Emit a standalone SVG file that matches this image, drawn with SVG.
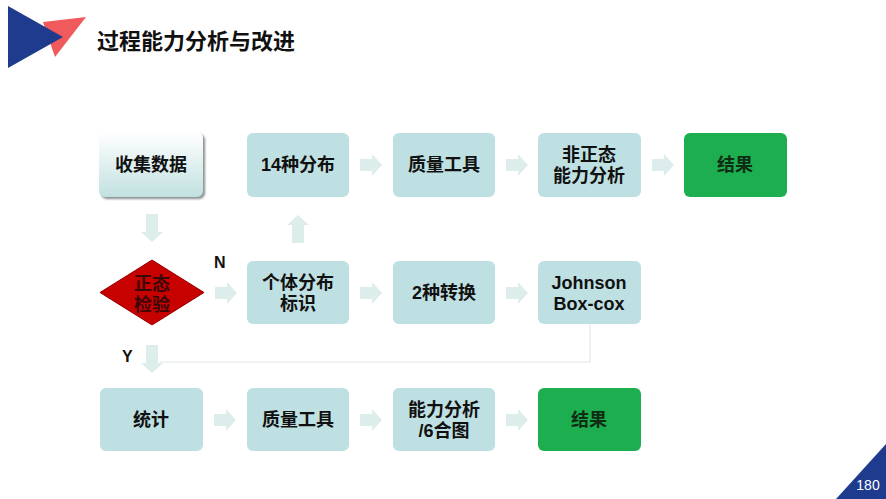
<svg xmlns="http://www.w3.org/2000/svg" width="886" height="499" viewBox="0 0 886 499">
<defs>
<linearGradient id="gCollect" x1="0" y1="0" x2="0" y2="1">
<stop offset="0" stop-color="#ffffff"/>
<stop offset="1" stop-color="#c2e0e0"/>
</linearGradient>
<filter id="shadow" x="-10%" y="-10%" width="130%" height="130%">
<feDropShadow dx="2" dy="2" stdDeviation="1.2" flood-color="#6b7373" flood-opacity="0.8"/>
</filter>
<path id="arrH" d="M0,-6 H12 V-11 L22,0 L12,11 V6 H0 Z"/>
<path id="arrD" d="M-6,0 V18 H-11 L0,28 L11,18 H6 V0 Z"/>
<path id="arrU" d="M-6,28 V10 H-11 L0,0 L11,10 H6 V28 Z"/>
</defs>
<style>
.box{fill:#bfe0e2;}
.green{fill:#1daf4f;}
.t{font-family:"Liberation Sans","Noto Sans CJK SC",sans-serif;font-weight:bold;font-size:18px;fill:#111;text-anchor:middle;}
.tg{fill:#0f2d14;}
.tr{fill:#3a0707;}
.arr{fill:#dcedeb;}
.lbl{font-family:"Liberation Sans","Noto Sans CJK SC",sans-serif;font-weight:bold;font-size:16px;fill:#111;}
</style>
<rect width="886" height="499" fill="#ffffff"/>

<g id="header">
<polygon points="43,22 86,17 55,57" fill="#f05a5c"/>
<polygon points="8,6 8,68 63,37" fill="#1f3b8d"/>
<text x="97" y="49" style="font-family:'Noto Sans CJK SC',sans-serif;font-weight:bold;font-size:22px;fill:#111;">过程能力分析与改进</text>
</g>

<g id="connectors">
<polyline points="590,324 590,362 160,362" fill="none" stroke="#e2e8e8" stroke-width="1.2"/>
<use href="#arrD" class="arr" x="152" y="214"/>
<use href="#arrU" class="arr" x="298" y="215"/>
<use href="#arrD" class="arr" x="152" y="345"/>
<use href="#arrH" class="arr" x="360" y="165"/>
<use href="#arrH" class="arr" x="506" y="165"/>
<use href="#arrH" class="arr" x="652" y="165"/>
<use href="#arrH" class="arr" x="215" y="293"/>
<use href="#arrH" class="arr" x="360" y="293"/>
<use href="#arrH" class="arr" x="506" y="293"/>
<use href="#arrH" class="arr" x="214" y="420"/>
<use href="#arrH" class="arr" x="360" y="420"/>
<use href="#arrH" class="arr" x="506" y="420"/>
<text class="lbl" x="214" y="268">N</text>
<text class="lbl" x="122" y="362">Y</text>
</g>

<g id="n-collect">
<rect x="99" y="132" width="104" height="65" rx="6" fill="url(#gCollect)" filter="url(#shadow)"/>
<text class="t" x="151" y="171">收集数据</text>
</g>
<g id="n-14dist">
<rect class="box" x="247" y="133" width="102" height="64" rx="6"/>
<text class="t" x="298" y="171">14种分布</text>
</g>
<g id="n-quality1">
<rect class="box" x="393" y="133" width="102" height="64" rx="6"/>
<text class="t" x="444" y="171">质量工具</text>
</g>
<g id="n-nonnormal">
<rect class="box" x="538" y="133" width="103" height="64" rx="6"/>
<text class="t" x="589" y="161">非正态</text>
<text class="t" x="589" y="182">能力分析</text>
</g>
<g id="n-result1">
<rect class="green" x="684" y="133" width="103" height="64" rx="6"/>
<text class="t tg" x="735" y="171">结果</text>
</g>

<g id="n-normtest">
<polygon points="100,292.5 152,260 204,292.5 152,325" fill="#c70000" stroke="#9a0000" stroke-width="1"/>
<text class="t tr" x="152" y="290">正态</text>
<text class="t tr" x="152" y="311">检验</text>
</g>
<g id="n-indiv">
<rect class="box" x="247" y="261" width="102" height="63" rx="6"/>
<text class="t" x="298" y="289">个体分布</text>
<text class="t" x="298" y="310">标识</text>
</g>
<g id="n-transform">
<rect class="box" x="393" y="261" width="102" height="63" rx="6"/>
<text class="t" x="444" y="299">2种转换</text>
</g>
<g id="n-johnson">
<rect class="box" x="538" y="261" width="103" height="63" rx="6"/>
<text class="t" x="589" y="289">Johnson</text>
<text class="t" x="589" y="310">Box-cox</text>
</g>

<g id="n-stat">
<rect class="box" x="100" y="388" width="103" height="63" rx="6"/>
<text class="t" x="151" y="426">统计</text>
</g>
<g id="n-quality2">
<rect class="box" x="247" y="388" width="102" height="63" rx="6"/>
<text class="t" x="298" y="426">质量工具</text>
</g>
<g id="n-capability">
<rect class="box" x="393" y="388" width="102" height="63" rx="6"/>
<text class="t" x="444" y="416">能力分析</text>
<text class="t" x="444" y="437">/6合图</text>
</g>
<g id="n-result2">
<rect class="green" x="538" y="388" width="103" height="63" rx="6"/>
<text class="t tg" x="589" y="426">结果</text>
</g>

<g id="footer">
<polygon points="886,444 886,499 836,499" fill="#1f3b8d"/>
<text x="868" y="490" style="font-family:'Liberation Sans',sans-serif;font-size:14px;fill:#ffffff;text-anchor:middle;">180</text>
</g>
</svg>
